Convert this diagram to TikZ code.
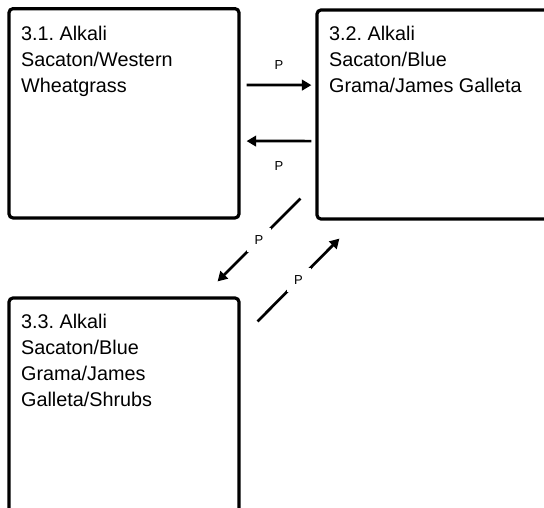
\documentclass[tikz,border=0pt]{standalone}
\usepackage{fontspec}
\setmainfont{Liberation Sans}
\usetikzlibrary{arrows.meta,calc}
\frenchspacing
\begin{document}
\begin{tikzpicture}[x=1pt,y=1pt,
  statebox/.style={draw=black, line width=3.2pt, rounded corners=4pt, rectangle, inner sep=0pt, fill=white},
  boxtext/.style={anchor=north west, inner sep=0pt, align=left, font=\fontsize{19.8}{25.8}\selectfont\frenchspacing},
  arr/.style={line width=2.7pt, -{Triangle[length=9.5pt,width=10.5pt]}},
  plabel/.style={font=\fontsize{13}{15}\selectfont, inner sep=0pt},
  gaplabel/.style={font=\fontsize{13}{15}\selectfont, inner sep=0pt, fill=white, minimum size=24pt}]
\fill[white] (0,0) rectangle (544,-507);
\clip (0,0) rectangle (544,-507);
% boxes
\node[statebox, minimum width=230pt, minimum height=209.3pt] (b1) at (124,-113.3) {};
\node[statebox, minimum width=283pt, minimum height=209pt] (b2) at (458.5,-114.5) {};
\node[statebox, minimum width=230pt, minimum height=302pt] (b3) at (124,-449) {};
% texts
\node[boxtext] (t1) at ($(b1.north west)+(13.5,-19.3)$) {3.1. Alkali\\Sacaton/Western\\Wheatgrass};
\node[boxtext] (t2) at ($(b2.north west)+(13.5,-17.7)$) {3.2. Alkali\\Sacaton/Blue\\Grama/James Galleta};
\node[boxtext] (t3) at ($(b3.north west)+(13.5,-18)$) {3.3. Alkali\\Sacaton/Blue\\Grama/James\\Galleta/Shrubs};
% horizontal arrows
\draw[arr] ($(b1.north east)+(6,-78)$) -- ($(b2.north west)+(-4,-76.7)$)
  node[plabel, midway, yshift=20pt] (p1) {P};
\draw[arr] ($(b2.north west)+(-4,-132.7)$) -- ($(b1.north east)+(6,-134)$)
  node[plabel, midway, yshift=-25pt] (p2) {P};
% diagonal arrows
\draw[arr] ($(b2.south west)+(-15,22)$) -- ($(b3.north east)+(-23,15)$)
  node[gaplabel, midway] (p3) {P};
\draw[arr] ($(b3.north east)+(17,-25)$) -- ($(b2.south west)+(24,-18)$)
  node[gaplabel, midway] (p4) {P};
\end{tikzpicture}
\end{document}
